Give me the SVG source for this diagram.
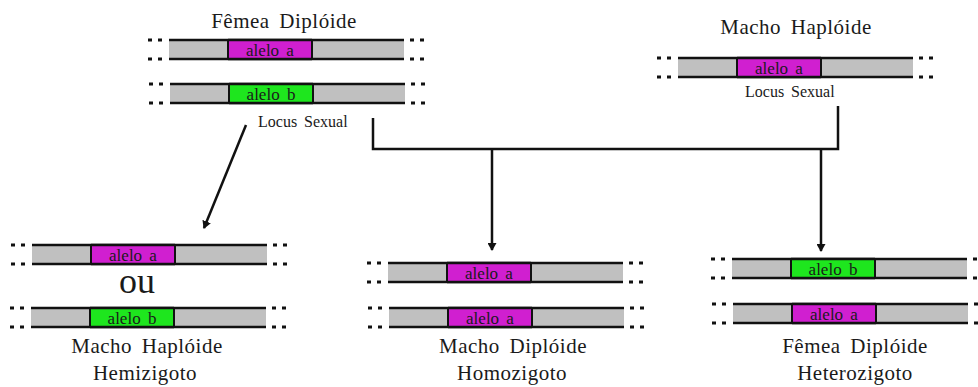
<svg xmlns="http://www.w3.org/2000/svg" width="978" height="387" viewBox="0 0 978 387">
<style>
text{font-family:"Liberation Serif","Times New Roman",serif;fill:#1a1a1a}
.t{font-size:21px;text-anchor:middle;word-spacing:4px;letter-spacing:0.5px}
.loc{font-size:16px;word-spacing:3px}
.al{font-size:17px;text-anchor:middle;word-spacing:3px}
.bar{fill:#c0c0c0}
.ln{stroke:#111;stroke-width:2.5}
.a{fill:#d01fd0;stroke:#111;stroke-width:2}
.b{fill:#1ee61e;stroke:#111;stroke-width:2}
.dot{fill:#111}
.con{stroke:#111;stroke-width:2.5;fill:none}
</style>
<defs>
<marker id="ah" markerWidth="8" markerHeight="9" refX="7" refY="4.5" orient="auto" markerUnits="userSpaceOnUse">
<path d="M0,0 L8,4.5 L0,9 Z" fill="#111"/>
</marker>
<g id="chrom">
<rect class="bar" x="0" y="0" width="235" height="19"/>
<line class="ln" x1="0" y1="0" x2="235" y2="0"/>
<line class="ln" x1="0" y1="19" x2="235" y2="19"/>
<rect class="dot" x="-21" y="-1.5" width="4" height="3"/>
<rect class="dot" x="-11" y="-1.5" width="4" height="3"/>
<rect class="dot" x="-21" y="17.5" width="4" height="3"/>
<rect class="dot" x="-11" y="17.5" width="4" height="3"/>
<rect class="dot" x="241" y="-1.5" width="4" height="3"/>
<rect class="dot" x="251" y="-1.5" width="4" height="3"/>
<rect class="dot" x="241" y="17.5" width="4" height="3"/>
<rect class="dot" x="251" y="17.5" width="4" height="3"/>
</g>
<g id="alA">
<rect class="a" x="59" y="0" width="84" height="19"/>
<line class="ln" x1="59" y1="0" x2="143" y2="0"/>
<line class="ln" x1="59" y1="19" x2="143" y2="19"/>
<text class="al" x="101" y="15.5">alelo a</text>
</g>
<g id="alB">
<rect class="b" x="59" y="0" width="84" height="19"/>
<line class="ln" x1="59" y1="0" x2="143" y2="0"/>
<line class="ln" x1="59" y1="19" x2="143" y2="19"/>
<text class="al" x="101" y="15.5">alelo b</text>
</g>
</defs>

<g id="femea-parental">
<text class="t" x="284" y="28">Fêmea Diplóide</text>
<g transform="translate(169,40)"><use href="#chrom"/><use href="#alA"/></g>
<g transform="translate(170,84)"><use href="#chrom"/><use href="#alB"/></g>
<text class="loc" x="258" y="127">Locus Sexual</text>
</g>

<g id="macho-parental">
<text class="t" x="796" y="34">Macho Haplóide</text>
<g transform="translate(678,58)"><use href="#chrom"/><use href="#alA"/></g>
<text class="loc" x="745" y="97">Locus Sexual</text>
</g>

<g id="macho-haploide">
<g transform="translate(32,245)"><use href="#chrom"/><use href="#alA"/></g>
<text x="137" y="293" style="font-size:36px;text-anchor:middle">ou</text>
<g transform="translate(31,308)"><use href="#chrom"/><use href="#alB"/></g>
<text class="t" x="147" y="353">Macho Haplóide</text>
<text class="t" x="145" y="380">Hemizigoto</text>
</g>

<g id="macho-diploide">
<g transform="translate(388,263)"><use href="#chrom"/><use href="#alA"/></g>
<g transform="translate(389,308)"><use href="#chrom"/><use href="#alA"/></g>
<text class="t" x="513" y="353">Macho Diplóide</text>
<text class="t" x="512" y="380">Homozigoto</text>
</g>

<g id="femea-diploide">
<g transform="translate(732,259)"><use href="#chrom"/><use href="#alB"/></g>
<g transform="translate(733,304)"><use href="#chrom"/><use href="#alA"/></g>
<text class="t" x="855" y="353">Fêmea Diplóide</text>
<text class="t" x="855" y="380">Heterozigoto</text>
</g>

<g id="connectors">
<path class="con" d="M373,118 V149 H838 V106"/>
<line class="con" x1="492" y1="149" x2="492" y2="250" marker-end="url(#ah)"/>
<line class="con" x1="821" y1="149" x2="821" y2="251" marker-end="url(#ah)"/>
<line class="con" x1="246" y1="125" x2="204" y2="228" marker-end="url(#ah)"/>
</g>
</svg>
